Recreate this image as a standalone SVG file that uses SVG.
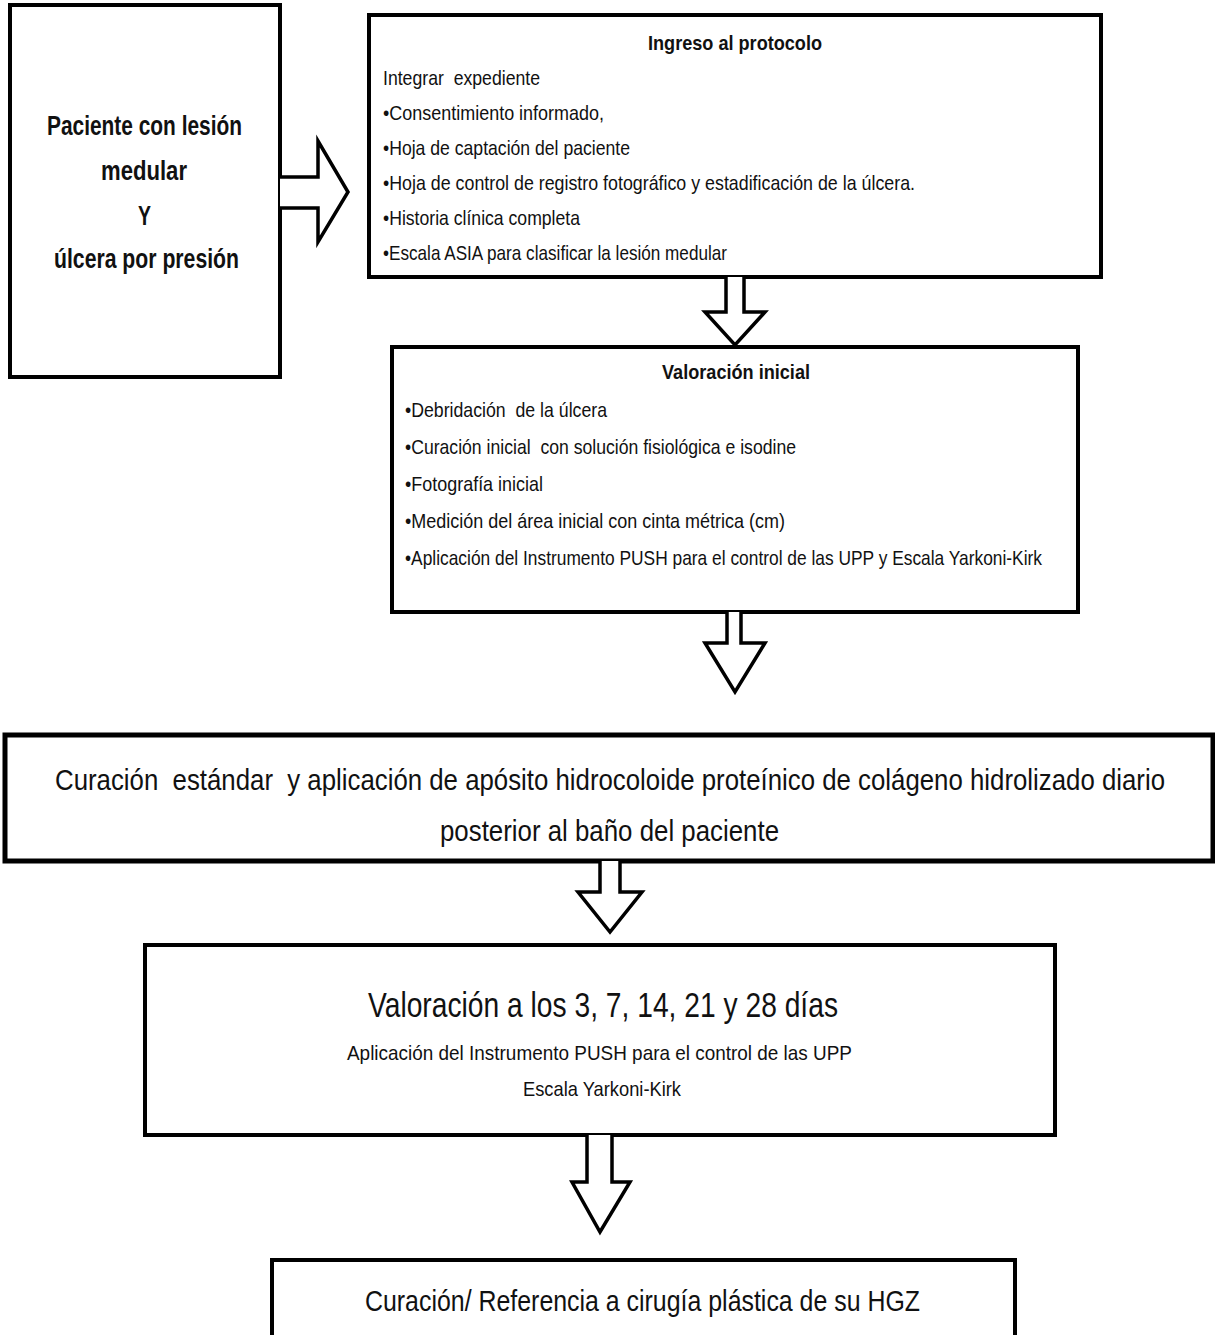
<svg xmlns="http://www.w3.org/2000/svg" width="1215" height="1335" viewBox="0 0 1215 1335">
<style>
.box{fill:#fff;stroke:#000;stroke-width:4}
.arr{fill:#fff;stroke:#000;stroke-width:3.5;stroke-linejoin:miter}
text{font-family:"Liberation Sans",Arial,sans-serif;fill:#111;white-space:pre}
.b{font-weight:bold}
.t1{font-size:27px}
.t2{font-size:21px}
.t3{font-size:29px}
.t4{font-size:35px}
</style>
<rect width="1215" height="1335" fill="#fff"/>
<g id="n1">
<rect class="box" x="10" y="5" width="270" height="372"/>
<text class="b t1" x="47" y="135" textLength="195" lengthAdjust="spacingAndGlyphs">Paciente con lesión</text>
<text class="b t1" x="101" y="180" textLength="86" lengthAdjust="spacingAndGlyphs">medular</text>
<text class="b t1" x="138" y="225" textLength="13" lengthAdjust="spacingAndGlyphs">Y</text>
<text class="b t1" x="54" y="268" textLength="185" lengthAdjust="spacingAndGlyphs">úlcera por presión</text>
</g>
<g id="n2">
<rect class="box" x="369" y="15" width="732" height="262"/>
<text class="b t2" x="648" y="50" textLength="174" lengthAdjust="spacingAndGlyphs">Ingreso al protocolo</text>
<text class="t2" x="383" y="85" textLength="157" lengthAdjust="spacingAndGlyphs">Integrar  expediente</text>
<text class="t2" x="383" y="120" textLength="221" lengthAdjust="spacingAndGlyphs">•Consentimiento informado,</text>
<text class="t2" x="383" y="155" textLength="247" lengthAdjust="spacingAndGlyphs">•Hoja de captación del paciente</text>
<text class="t2" x="383" y="190" textLength="532" lengthAdjust="spacingAndGlyphs">•Hoja de control de registro fotográfico y estadificación de la úlcera.</text>
<text class="t2" x="383" y="225" textLength="197" lengthAdjust="spacingAndGlyphs">•Historia clínica completa</text>
<text class="t2" x="383" y="260" textLength="344" lengthAdjust="spacingAndGlyphs">•Escala ASIA para clasificar la lesión medular</text>
</g>
<g id="n3">
<rect class="box" x="392" y="347" width="686" height="265"/>
<text class="b t2" x="662" y="379" textLength="148" lengthAdjust="spacingAndGlyphs">Valoración inicial</text>
<text class="t2" x="405" y="417" textLength="202" lengthAdjust="spacingAndGlyphs">•Debridación  de la úlcera</text>
<text class="t2" x="405" y="454" textLength="391" lengthAdjust="spacingAndGlyphs">•Curación inicial  con solución fisiológica e isodine</text>
<text class="t2" x="405" y="491" textLength="138" lengthAdjust="spacingAndGlyphs">•Fotografía inicial</text>
<text class="t2" x="405" y="528" textLength="380" lengthAdjust="spacingAndGlyphs">•Medición del área inicial con cinta métrica (cm)</text>
<text class="t2" x="405" y="565" textLength="637" lengthAdjust="spacingAndGlyphs">•Aplicación del Instrumento PUSH para el control de las UPP y Escala Yarkoni-Kirk</text>
</g>
<g id="n4">
<rect class="box" x="5" y="735" width="1208" height="126" style="stroke-width:5"/>
<text class="t3" x="55" y="790" textLength="1110" lengthAdjust="spacingAndGlyphs">Curación  estándar  y aplicación de apósito hidrocoloide proteínico de colágeno hidrolizado diario</text>
<text class="t3" x="440" y="841" textLength="339" lengthAdjust="spacingAndGlyphs">posterior al baño del paciente</text>
</g>
<g id="n5">
<rect class="box" x="145" y="945" width="910" height="190"/>
<text class="t4" x="368" y="1017" textLength="470" lengthAdjust="spacingAndGlyphs">Valoración a los 3, 7, 14, 21 y 28 días</text>
<text class="t2" x="347" y="1060" textLength="505" lengthAdjust="spacingAndGlyphs">Aplicación del Instrumento PUSH para el control de las UPP</text>
<text class="t2" x="523" y="1096" textLength="158" lengthAdjust="spacingAndGlyphs">Escala Yarkoni-Kirk</text>
</g>
<g id="n6">
<rect class="box" x="272" y="1260" width="743" height="90"/>
<text class="t3" x="365" y="1311" textLength="555" lengthAdjust="spacingAndGlyphs">Curación/ Referencia a cirugía plástica de su HGZ</text>
</g>
<g id="connectors">
<path class="arr" d="M280,177 H318 V141 L348,192 L318,242 V208 H280"/>
<path class="arr" d="M726,277 V312 H705 L735,345 L765,312 H744 V277"/>
<path class="arr" d="M727,612 V643 H705 L735,692 L765,643 H741 V612"/>
<path class="arr" d="M600,861 V892 H578 L610,932 L642,892 H620 V861"/>
<path class="arr" d="M587,1135 V1182 H572 L600,1232 L630,1182 H612 V1135"/>
</g>
</svg>
